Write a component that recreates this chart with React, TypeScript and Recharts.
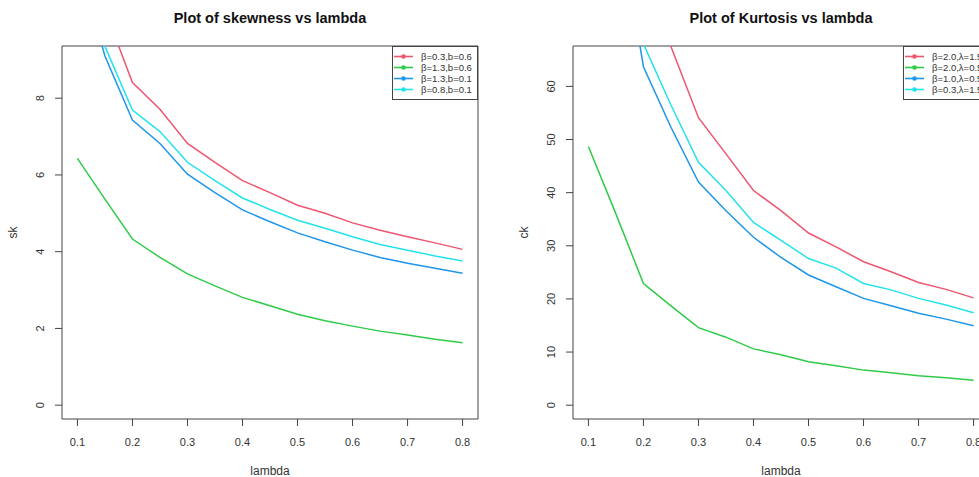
import React from 'react';
import {
  Label,
  Legend,
  Line,
  LineChart,
  ReferenceArea,
  XAxis,
  YAxis,
} from 'recharts';

// lambda grid, every 0.05
const lambda = [0.1, 0.15, 0.2, 0.25, 0.3, 0.35, 0.4, 0.45, 0.5, 0.55, 0.6, 0.65, 0.7, 0.75, 0.8];
const xTicks = [0.1, 0.2, 0.3, 0.4, 0.5, 0.6, 0.7, 0.8];

// skewness panel
const skNames = ['β=0.3,b=0.6', 'β=1.3,b=0.6', 'β=1.3,b=0.1', 'β=0.8,b=0.1'];
const skRed = [13.5, 10.3, 8.41, 7.71, 6.82, 6.33, 5.85, 5.54, 5.21, 5.0, 4.75, 4.56, 4.39, 4.23, 4.06];
const skGreen = [6.43, 5.37, 4.33, 3.85, 3.42, 3.11, 2.81, 2.59, 2.37, 2.2, 2.06, 1.93, 1.83, 1.72, 1.63];
const skBlue = [11.6, 9.1, 7.43, 6.82, 6.02, 5.54, 5.09, 4.78, 4.49, 4.26, 4.04, 3.85, 3.7, 3.57, 3.44];
const skCyan = [12.2, 9.35, 7.69, 7.13, 6.33, 5.85, 5.4, 5.1, 4.82, 4.61, 4.39, 4.19, 4.04, 3.89, 3.76];
const skTicks = [0, 2, 4, 6, 8];

// kurtosis panel
const ckNames = ['β=2.0,λ=1.5', 'β=2.0,λ=0.5', 'β=1.0,λ=0.5', 'β=0.3,λ=1.5'];
const ckRed = [200, 125, 88, 67.5, 54.1, 47.3, 40.4, 36.6, 32.4, 29.8, 27.0, 25.1, 23.1, 21.8, 20.2];
const ckGreen = [48.7, 36.0, 22.9, 18.7, 14.6, 12.8, 10.6, 9.5, 8.17, 7.42, 6.6, 6.1, 5.53, 5.15, 4.71];
const ckBlue = [150, 95, 63.7, 52.3, 42.0, 36.6, 31.6, 27.8, 24.5, 22.3, 20.1, 18.7, 17.3, 16.2, 14.95];
const ckCyan = [160, 100, 68, 56.5, 45.7, 40.4, 34.4, 31.0, 27.6, 25.8, 22.9, 21.7, 20.1, 18.85, 17.4];
const ckTicks = [0, 10, 20, 30, 40, 50, 60];

// close to R's palette 2..5, as it shows in the picture
const colors = ['#EE5570', '#2FCB48', '#1E96EA', '#22E3EC'];

const FONT = '"Liberation Sans", Arial, sans-serif';

// R pads the range by 4% on each side
function padded(lo: number, hi: number): [number, number] {
  const p = (hi - lo) * 0.04;
  return [lo - p, hi + p];
}

function buildRows(series: number[][]) {
  return lambda.map((l, i) => {
    const row: Record<string, number> = { lambda: l };
    series.forEach((s, k) => {
      row[`s${k}`] = s[i];
    });
    return row;
  });
}

function YTick(props: any) {
  const { x, y, payload } = props;
  return (
    <text
      x={x}
      y={y}
      transform={`rotate(-90, ${x}, ${y})`}
      textAnchor="middle"
      fontSize={11}
      fontFamily={FONT}
      fill="#333"
    >
      {payload.value}
    </text>
  );
}

function LegendBox({ payload, names }: { payload?: any[]; names: string[] }) {
  const items = [...(payload || [])].sort(
    (a, b) => names.indexOf(a.value) - names.indexOf(b.value),
  );
  return (
    <div
      style={{
        border: '1px solid #444',
        background: '#fff',
        padding: '4px 0 4px 0',
        fontFamily: FONT,
        fontSize: 9.5,
        color: '#333',
        whiteSpace: 'nowrap',
        overflow: 'hidden',
      }}
    >
      {items.map((p) => (
        <div key={p.value} style={{ display: 'flex', alignItems: 'center', height: 11 }}>
          <svg width={28} height={11} style={{ flex: 'none' }}>
            <line x1={1} x2={20} y1={5.5} y2={5.5} stroke={p.color} strokeWidth={1.6} />
            <circle cx={10.5} cy={5.5} r={2.3} fill={p.color} />
          </svg>
          <span>{p.value}</span>
        </div>
      ))}
    </div>
  );
}

type PanelProps = {
  title: string;
  yLabel: string;
  names: string[];
  series: number[][];
  yMax: number;
  yTicks: number[];
  left: number;
  width: number;
  yAxisWidth: number;
  rightMargin: number;
};

function Panel({ title, yLabel, names, series, yMax, yTicks, left, width, yAxisWidth, rightMargin }: PanelProps) {
  const height = 477;
  const xDomain = padded(0.1, 0.8);
  const yDomain = padded(0, yMax);
  const rows = buildRows(series);
  const plotLeft = yAxisWidth;
  const plotRight = width - rightMargin;
  return (
    <div style={{ position: 'absolute', left, top: 0, width, height }}>
      <svg width={width} height={40} style={{ position: 'absolute', left: 0, top: 0 }}>
        <text
          x={(plotLeft + plotRight) / 2}
          y={23.3}
          textAnchor="middle"
          fontFamily={FONT}
          fontWeight="bold"
          fontSize={14.5}
          fill="#111"
        >
          {title}
        </text>
      </svg>
      <LineChart
        width={width}
        height={height}
        data={rows}
        margin={{ top: 46, right: rightMargin, bottom: 0, left: 0 }}
        style={{ position: 'absolute', left: 0, top: 0 }}
      >
        <XAxis
          dataKey="lambda"
          type="number"
          domain={xDomain}
          ticks={xTicks}
          allowDataOverflow
          tickFormatter={(v: number) => v.toFixed(1)}
          axisLine={false}
          tickSize={7}
          tickMargin={12}
          tickLine={{ stroke: '#444' }}
          tick={{ fontSize: 11, fill: '#333', fontFamily: FONT }}
          height={58}
        >
          <Label
            content={(p: any) => {
              const vb = p.viewBox;
              return (
                <text
                  x={vb.x + vb.width / 2}
                  y={vb.y + 56}
                  textAnchor="middle"
                  fontSize={12}
                  fontFamily={FONT}
                  fill="#333"
                >
                  lambda
                </text>
              );
            }}
          />
        </XAxis>
        <YAxis
          type="number"
          domain={yDomain}
          ticks={yTicks}
          allowDataOverflow
          axisLine={false}
          tickSize={7}
          tickMargin={11}
          tickLine={{ stroke: '#444' }}
          tick={<YTick />}
          width={yAxisWidth}
        >
          <Label
            content={(p: any) => {
              const vb = p.viewBox;
              const x = vb.x + vb.width - 45;
              const y = vb.y + vb.height / 2;
              return (
                <text
                  x={x}
                  y={y}
                  transform={`rotate(-90, ${x}, ${y})`}
                  textAnchor="middle"
                  fontSize={12}
                  fontFamily={FONT}
                  fill="#333"
                >
                  {yLabel}
                </text>
              );
            }}
          />
        </YAxis>
        {series.map((_, k) => (
          <Line
            key={k}
            type="linear"
            dataKey={`s${k}`}
            name={names[k]}
            stroke={colors[k]}
            strokeWidth={1.5}
            dot={false}
            isAnimationActive={false}
          />
        ))}
        <ReferenceArea
          x1={xDomain[0]}
          x2={xDomain[1]}
          y1={yDomain[0]}
          y2={yDomain[1]}
          fill="none"
          stroke="#444"
          strokeWidth={1}
          ifOverflow="visible"
        />
        <Legend
          layout="vertical"
          align="center"
          verticalAlign="middle"
          wrapperStyle={{ top: 46, left: plotRight - 86, right: 'auto', bottom: 'auto', width: 86 }}
          content={(p: any) => <LegendBox payload={p.payload} names={names} />}
        />
      </LineChart>
    </div>
  );
}

export default function App() {
  return (
    <div
      style={{
        position: 'absolute',
        left: 0,
        top: 0,
        width: 979,
        height: 477,
        overflow: 'hidden',
        background: '#fff',
      }}
    >
      <Panel
        title="Plot of skewness vs lambda"
        yLabel="sk"
        names={skNames}
        series={[skRed, skGreen, skBlue, skCyan]}
        yMax={9}
        yTicks={skTicks}
        left={0}
        width={490}
        yAxisWidth={62}
        rightMargin={12}
      />
      <Panel
        title="Plot of Kurtosis vs lambda"
        yLabel="ck"
        names={ckNames}
        series={[ckRed, ckGreen, ckBlue, ckCyan]}
        yMax={65}
        yTicks={ckTicks}
        left={490}
        width={510}
        yAxisWidth={83}
        rightMargin={11}
      />
    </div>
  );
}
